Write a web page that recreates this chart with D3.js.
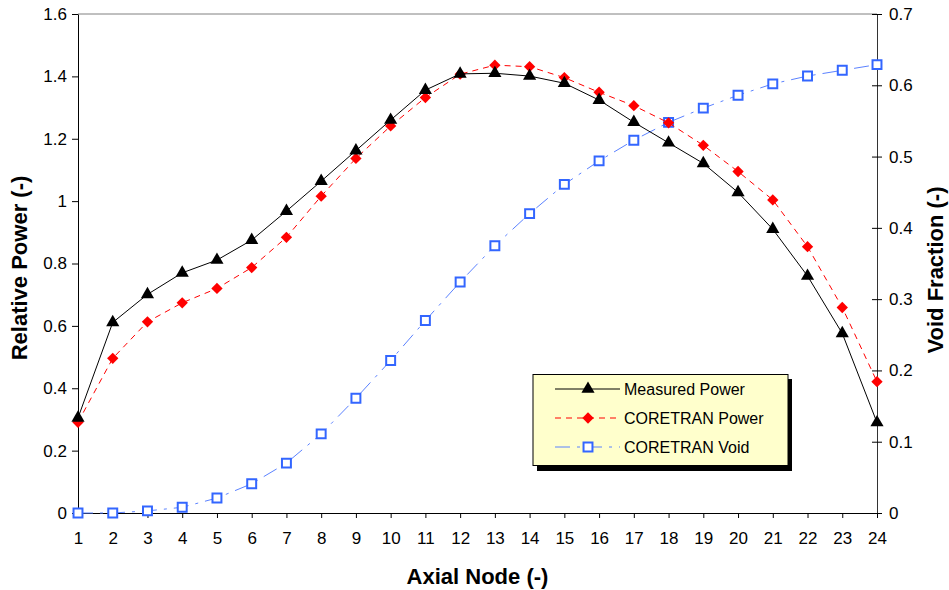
<!DOCTYPE html>
<html>
<head>
<meta charset="utf-8">
<script src="https://cdn.jsdelivr.net/npm/d3@7"></script>
<style>
  body { margin: 0; background: #fff; }
  svg { font-family: "Liberation Sans", Arial, sans-serif; }
</style>
</head>
<body>
<div class="chart"></div>
<script>
// axial nodes and the three series
const nodes = d3.range(1, 25)
const measuredPower = [0.305, 0.611, 0.701, 0.770, 0.811, 0.875, 0.968, 1.064, 1.162, 1.260, 1.356, 1.408,
  1.410, 1.401, 1.378, 1.324, 1.253, 1.187, 1.121, 1.028, 0.910, 0.760, 0.576, 0.290]
const coretranPower = [0.291, 0.496, 0.613, 0.674, 0.720, 0.787, 0.884, 1.016, 1.137, 1.241, 1.332, 1.407,
  1.436, 1.431, 1.396, 1.349, 1.306, 1.251, 1.179, 1.095, 1.004, 0.854, 0.659, 0.421]
const coretranVoid = [0.000, 0.000, 0.003, 0.008, 0.021, 0.041, 0.070, 0.111, 0.161, 0.214, 0.270, 0.324,
  0.375, 0.420, 0.461, 0.494, 0.523, 0.548, 0.568, 0.586, 0.602, 0.613, 0.621, 0.629]
const powerTicks = [0, 0.2, 0.4, 0.6, 0.8, 1, 1.2, 1.4, 1.6]
const voidTicks = [0, 0.1, 0.2, 0.3, 0.4, 0.5, 0.6, 0.7]

const width = 949, height = 590
const margin = {top: 14, right: 72, bottom: 77, left: 78}

const svg = d3.select(".chart").append("svg")
  .attr("width", width)
  .attr("height", height)

const x = d3.scaleLinear().domain([1, 24]).range([margin.left, width - margin.right])
const yL = d3.scaleLinear().domain([0, 1.6]).range([height - margin.bottom, margin.top])
const yR = d3.scaleLinear().domain([0, 0.7]).range([height - margin.bottom, margin.top])

const fmt = d => String(+d.toFixed(1))

// top frame line
svg.append("line")
  .attr("x1", x(1)).attr("x2", x(24))
  .attr("y1", margin.top).attr("y2", margin.top)
  .attr("stroke", "#808080").attr("stroke-width", 1)

const styleAxis = g => {
  g.select(".domain").attr("stroke", "#000")
  g.selectAll(".tick line").attr("stroke", "#000")
  g.selectAll(".tick text").attr("font-size", 17).attr("fill", "#000")
}

svg.append("g")
  .attr("transform", `translate(0,${height - margin.bottom})`)
  .call(d3.axisBottom(x).tickValues(nodes).tickSize(5).tickPadding(14).tickSizeOuter(0))
  .call(styleAxis)

svg.append("g")
  .attr("transform", `translate(${margin.left},0)`)
  .call(d3.axisLeft(yL).tickValues(powerTicks).tickFormat(fmt).tickSize(6).tickPadding(5).tickSizeOuter(0))
  .call(styleAxis)

svg.append("g")
  .attr("transform", `translate(${width - margin.right},0)`)
  .call(d3.axisRight(yR).tickValues(voidTicks).tickFormat(fmt).tickSize(5).tickPadding(7).tickSizeOuter(0))
  .call(styleAxis)
  .call(g => g.selectAll(".tick line").attr("x1", -5))
  .call(g => g.select(".domain").attr("stroke", "#333"))

// axis titles
svg.append("text")
  .attr("x", (x(1) + x(24)) / 2).attr("y", 584)
  .attr("text-anchor", "middle").attr("font-size", 22).attr("font-weight", "bold")
  .text("Axial Node (-)")

svg.append("text")
  .attr("transform", "translate(27,268) rotate(-90)")
  .attr("text-anchor", "middle").attr("font-size", 22).attr("font-weight", "bold")
  .text("Relative Power (-)")

svg.append("text")
  .attr("transform", "translate(943,270) rotate(-90)")
  .attr("text-anchor", "middle").attr("font-size", 22).attr("font-weight", "bold")
  .text("Void Fraction (-)")

const series = [
  {name: "Measured Power", values: measuredPower, y: yL, color: "#000", dash: null,
    symbol: d3.symbolTriangle, size: 75, rot: 0, fill: "#000", stroke: "none"},
  {name: "CORETRAN Power", values: coretranPower, y: yL, color: "#ff0000", dash: "6,5",
    symbol: d3.symbolSquare, size: 64, rot: 45, fill: "#ff0000", stroke: "none"},
  {name: "CORETRAN Void", values: coretranVoid, y: yR, color: "#5b82ff", dash: "15,7,3,7",
    symbol: d3.symbolSquare, size: 80, rot: 0, fill: "#fff", stroke: "#3366ff"}
]

// draw void first so the power curves sit on top
series.slice().reverse().forEach(s => {
  const line = d3.line().x((d, i) => x(nodes[i])).y(d => s.y(d))
  svg.append("path")
    .datum(s.values)
    .attr("d", line)
    .attr("fill", "none")
    .attr("stroke", s.color)
    .attr("stroke-width", 1)
    .attr("stroke-dasharray", s.dash)

  svg.append("g").selectAll("path")
    .data(s.values)
    .enter()
    .append("path")
      .attr("transform", (d, i) => `translate(${x(nodes[i])},${s.y(d)}) rotate(${s.rot})`)
      .attr("d", d3.symbol().type(s.symbol).size(s.size))
      .attr("fill", s.fill)
      .attr("stroke", s.stroke)
      .attr("stroke-width", 2)
})

// legend
const lg = svg.append("g")
lg.append("rect")
  .attr("x", 537).attr("y", 379).attr("width", 255).attr("height", 92)
  .attr("fill", "#000")
lg.append("rect")
  .attr("x", 533).attr("y", 374.5).attr("width", 255).attr("height", 91)
  .attr("fill", "#ffffcc").attr("stroke", "#000").attr("stroke-width", 1)

series.forEach((s, i) => {
  const cy = 389 + i * 29
  lg.append("line")
    .attr("x1", 555).attr("x2", 620).attr("y1", cy).attr("y2", cy)
    .attr("stroke", s.color).attr("stroke-width", 1)
    .attr("stroke-dasharray", s.dash)
  lg.append("path")
    .attr("transform", `translate(588,${cy}) rotate(${s.rot})`)
    .attr("d", d3.symbol().type(s.symbol).size(s.size))
    .attr("fill", s.fill)
    .attr("stroke", s.stroke)
    .attr("stroke-width", 2)
  lg.append("text")
    .attr("x", 624).attr("y", cy + 6)
    .attr("font-size", 16)
    .text(s.name)
})
</script>
</body>
</html>
